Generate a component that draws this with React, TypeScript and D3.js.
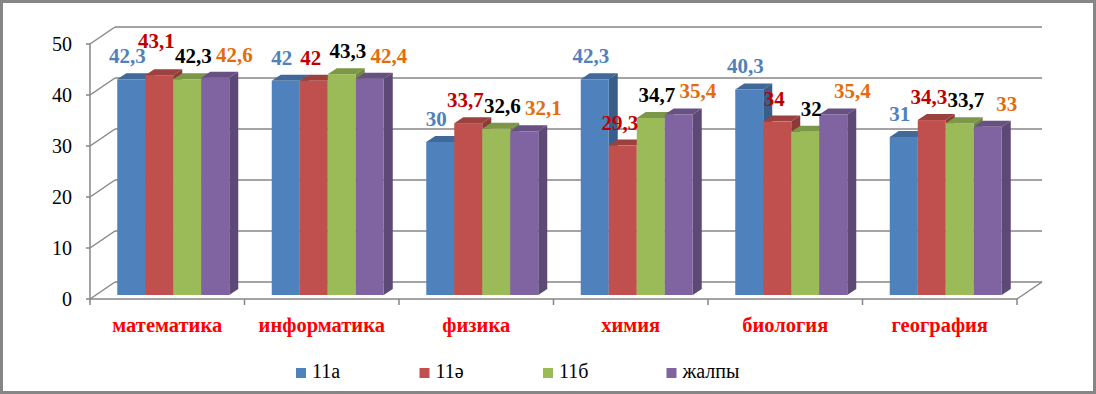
import React from "react";
import * as d3 from "d3";

const categories = ["математика", "информатика", "физика", "химия", "биология", "география"];
const seriesNames = ["11а", "11ә", "11б", "жалпы"];
const values11a = [42.3, 42, 30, 42.3, 40.3, 31];
const values11e = [43.1, 42, 33.7, 29.3, 34, 34.3];
const values11b = [42.3, 43.3, 32.6, 34.7, 32, 33.7];
const valuesAll = [42.6, 42.4, 32.1, 35.4, 35.4, 33];
const yTicks = [0, 10, 20, 30, 40, 50];

const seriesValues = [values11a, values11e, values11b, valuesAll];
const barColors = ["#4F81BD", "#C0504D", "#9BBB59", "#8064A2"];
const labelColors = ["#4F81BD", "#C00000", "#000000", "#E46C0A"];
const labelDx = [-4, -3, 6, 19];

const W = 1096, H = 394;
const FONT = "'Liberation Serif', 'Times New Roman', serif";
const LABEL_FS = 21;

// 3d projection offsets
const WALL_DX = 25, WALL_DY = -17;
const BAR_DX = 6, BAR_DY = -4;
const DEPTH_DX = 9, DEPTH_DY = -6;

const fmt = (v: number) => String(v).replace(".", ",");
// rough width of a bold serif number label
const labelWidth = (s: string) => s.split("").reduce((a, ch) => a + (ch === "," ? 0.25 : 0.5), 0) * LABEL_FS;

const App = () => {
  React.useEffect(() => {
    document.body.style.margin = "0";
  }, []);

  const x0 = d3.scaleBand<string>().domain(categories).range([90, 1017]);
  const bw = x0.bandwidth();
  const groupW = 112;
  const x1 = d3.scaleBand<string>().domain(seriesNames).range([(bw - groupW) / 2, (bw + groupW) / 2]);
  const y = d3.scaleLinear().domain([0, 50]).range([299, 44]);
  const gridColor = "#868686";

  const bars: React.ReactNode[] = [];
  const labels: React.ReactNode[] = [];
  categories.forEach((c, ci) => {
    let prev: { cx: number; by: number; w: number } | null = null;
    seriesNames.forEach((s, si) => {
      const v = seriesValues[si][ci];
      const xl = (x0(c) as number) + (x1(s) as number) + BAR_DX;
      const w = x1.bandwidth();
      const yt = y(v) + BAR_DY;
      const yb = y(0) + BAR_DY;
      const base = d3.color(barColors[si])!;
      const side = base.darker(0.9).formatHex();
      const top = base.darker(0.6).formatHex();
      const topPts = [[xl, yt], [xl + w, yt], [xl + w + DEPTH_DX, yt + DEPTH_DY], [xl + DEPTH_DX, yt + DEPTH_DY]];
      const sidePts = [[xl + w, yt], [xl + w + DEPTH_DX, yt + DEPTH_DY], [xl + w + DEPTH_DX, yb + DEPTH_DY], [xl + w, yb]];
      bars.push(
        <g key={`b${ci}-${si}`}>
          <polygon points={topPts.map((p) => p.join(",")).join(" ")} fill={top} />
          <polygon points={sidePts.map((p) => p.join(",")).join(" ")} fill={side} />
          <rect x={xl} y={yt} width={w} height={yb - yt} fill={barColors[si]} />
        </g>
      );
      const txt = fmt(v);
      const lw = labelWidth(txt);
      const cx = xl + w / 2 + labelDx[si];
      let by = yt + DEPTH_DY - 10;
      // push up when colliding with the label on the left
      if (prev && Math.abs(cx - prev.cx) < (lw + prev.w) / 2 && Math.abs(by - prev.by) < 15) {
        by = prev.by - 15;
      }
      prev = { cx, by, w: lw };
      labels.push(
        <text
          key={`l${ci}-${si}`}
          x={cx}
          y={by}
          textAnchor="middle"
          fontFamily={FONT}
          fontWeight="bold"
          fontSize={LABEL_FS}
          fill={labelColors[si]}
        >
          {txt}
        </text>
      );
    });
  });

  const xs = x0.range();
  return (
    <svg width={W} height={H} style={{ position: "absolute", left: 0, top: 0, display: "block" }}>
      <rect x={0} y={0} width={W} height={H} fill="#fff" />
      {/* back wall grid + left wall diagonals */}
      {yTicks.map((t) => (
        <g key={`g${t}`} stroke={gridColor} strokeWidth={1.5} fill="none">
          <line x1={xs[0] + WALL_DX} x2={xs[1] + WALL_DX} y1={y(t) + WALL_DY} y2={y(t) + WALL_DY} />
          <line x1={xs[0]} x2={xs[0] + WALL_DX} y1={y(t)} y2={y(t) + WALL_DY} />
          <line x1={xs[0] - 4} x2={xs[0]} y1={y(t)} y2={y(t)} />
        </g>
      ))}
      {/* floor */}
      <g stroke={gridColor} strokeWidth={1.5} fill="none">
        <line x1={xs[0]} x2={xs[0]} y1={y(50)} y2={y(0)} />
        <line x1={xs[0]} x2={xs[1]} y1={y(0)} y2={y(0)} />
        <line x1={xs[1]} x2={xs[1] + WALL_DX} y1={y(0)} y2={y(0) + WALL_DY} />
        {categories.concat([""]).map((c, i) => {
          const xx = i < categories.length ? (x0(c) as number) : xs[1];
          return <line key={`t${i}`} x1={xx} x2={xx} y1={y(0)} y2={y(0) + 6} />;
        })}
      </g>
      {yTicks.map((t) => (
        <text key={`yl${t}`} x={72} y={y(t)} dy="0.35em" textAnchor="end" fontFamily={FONT} fontSize={20} fill="#000">
          {t}
        </text>
      ))}
      {bars}
      {labels}
      {categories.map((c) => (
        <text
          key={`c${c}`}
          x={(x0(c) as number) + bw / 2}
          y={332}
          textAnchor="middle"
          fontFamily={FONT}
          fontWeight="bold"
          fontSize={20.5}
          fill="#FF0000"
        >
          {c}
        </text>
      ))}
      {/* legend */}
      {seriesNames.map((s, i) => (
        <g key={`lg${s}`} transform={`translate(${296 + i * 123.5},368)`}>
          <rect x={0} y={0} width={10} height={10} fill={barColors[i]} />
          <text x={16} y={10} fontFamily={FONT} fontSize={20} fill="#000">
            {s}
          </text>
        </g>
      ))}
      <rect x={1.5} y={1.5} width={W - 3} height={H - 3} fill="none" stroke="#868686" strokeWidth={3} />
    </svg>
  );
};

export default App;
